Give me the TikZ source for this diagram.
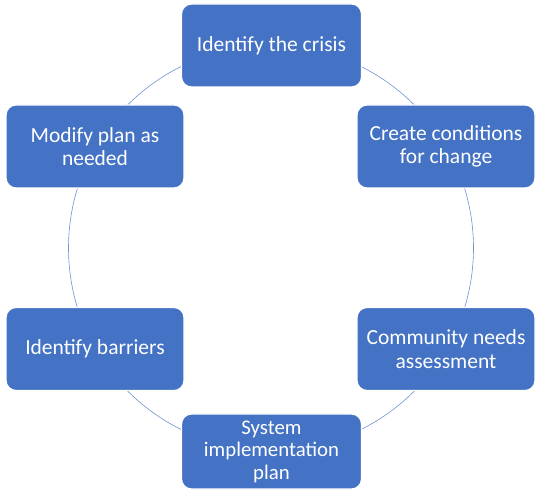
\documentclass[tikz,border=0pt]{standalone}
\usepackage{fontspec}
\setmainfont{Carlito}
\begin{document}
\begin{tikzpicture}[x=1pt,y=1pt,
  stepbox/.style={draw=white, line width=1.2pt, fill=boxblue, rounded corners=10pt,
    minimum width=178pt, minimum height=83pt, align=center, text=white,
    font=\fontsize{21.5}{23.5}\selectfont, inner sep=2pt},
  ring/.style={draw=ringblue, line width=0.6pt}]
\definecolor{boxblue}{HTML}{4472C4}
\definecolor{ringblue}{HTML}{6F93D3}
\useasboundingbox (0,0) rectangle (540,492);
\coordinate (c) at (271,244);
\draw[ring] (c) circle (202.5);
\node[stepbox, minimum width=180pt] (crisis) at (271.5,446.5) {Identify the crisis};
\node[stepbox] (create) at (446,345.5) {Create conditions\\for change};
\node[stepbox] (community) at (446,143) {Community needs\\assessment};
\node[stepbox, minimum width=180pt, minimum height=75pt, font=\fontsize{20.8}{22.5}\selectfont] (system) at (271.5,40.5) {System\\implementation\\plan};
\node[stepbox] (barriers) at (95,143) {Identify barriers};
\node[stepbox] (modify) at (95,345.5) {Modify plan as\\needed};
\end{tikzpicture}
\end{document}
